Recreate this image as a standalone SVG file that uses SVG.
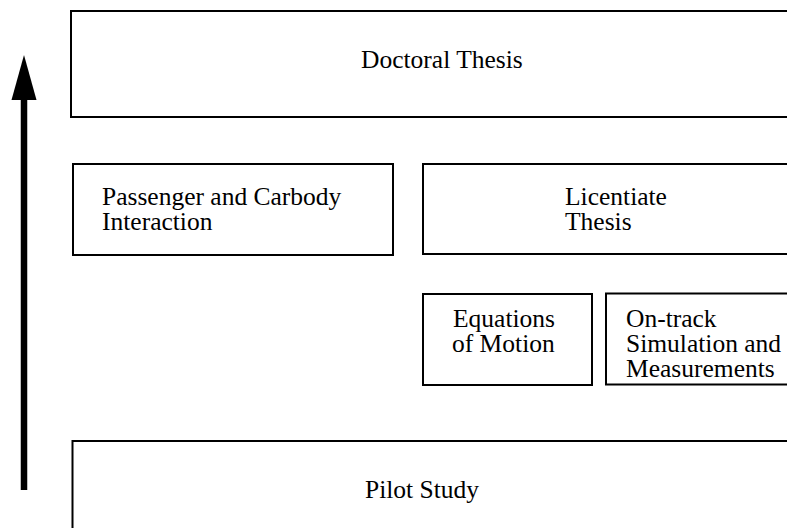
<svg xmlns="http://www.w3.org/2000/svg" width="787" height="528" viewBox="0 0 787 528">
<style>
.box{fill:#fff;stroke:#000;stroke-width:2}
.t{font-family:"Liberation Serif","Times New Roman",serif;font-size:25.5px;fill:#000}
</style>
<defs>
<marker id="ah" markerUnits="userSpaceOnUse" markerWidth="26" markerHeight="46" refX="13" refY="0" orient="auto-start-reverse" viewBox="0 0 26 46">
<path d="M13,0 L26,45 L0,45 Z" fill="#000"/>
</marker>
</defs>
<rect width="787" height="528" fill="#fff"/>
<g id="connectors">
<line x1="24" y1="490" x2="24" y2="100" stroke="#000" stroke-width="6.5"/>
<path d="M24,55 L36.5,100 L11.5,100 Z" fill="#000"/>
</g>
<g id="doctoral">
<rect class="box" x="71" y="11" width="730" height="106"/>
<text class="t" x="361" y="68">Doctoral Thesis</text>
</g>
<g id="passenger">
<rect class="box" x="73" y="164" width="320" height="91"/>
<text class="t" x="102" y="205">Passenger and Carbody</text>
<text class="t" x="102" y="230">Interaction</text>
</g>
<g id="licentiate">
<rect class="box" x="423" y="164" width="380" height="90"/>
<text class="t" x="565" y="205">Licentiate</text>
<text class="t" x="565" y="230">Thesis</text>
</g>
<g id="equations">
<rect class="box" x="423" y="294" width="169" height="91"/>
<text class="t" x="453" y="327">Equations</text>
<text class="t" x="452" y="352">of Motion</text>
</g>
<g id="ontrack">
<rect class="box" x="606" y="293.5" width="200" height="91"/>
<text class="t" x="626" y="327">On-track</text>
<text class="t" x="626" y="352">Simulation and</text>
<text class="t" x="626" y="377">Measurements</text>
</g>
<g id="pilot">
<rect class="box" x="72.5" y="441" width="730" height="100"/>
<text class="t" x="365" y="498">Pilot Study</text>
</g>
</svg>
